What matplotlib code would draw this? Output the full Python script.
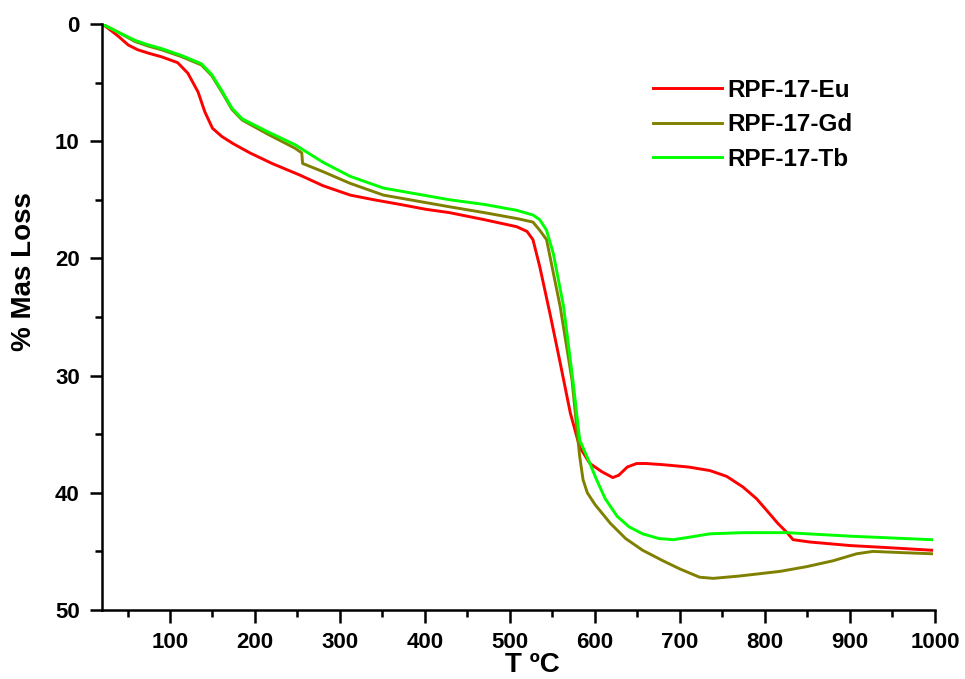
import matplotlib.pyplot as plt
from matplotlib.ticker import MultipleLocator
import numpy as np

plt.rcParams['font.family'] = ['Liberation Sans', 'DejaVu Sans']
plt.rcParams['font.weight'] = 'bold'

# values
eu_T = [20, 27, 40, 51, 62, 75, 90, 109, 121, 133, 141, 150, 161, 174, 194, 220, 253, 280, 312,
        340, 371, 400, 429, 470, 508, 520, 527, 535, 547, 559, 571, 582, 594, 608, 621, 628,
        638, 649, 660, 680, 710, 735, 755, 774, 790, 802, 815, 826, 833, 853, 900, 950, 996]
eu_L = [0, 0.35, 1.1, 1.8, 2.2, 2.5, 2.8, 3.3, 4.2, 5.8, 7.5, 8.9, 9.6, 10.2, 11.0, 11.9, 12.9, 13.8, 14.6,
        15.0, 15.4, 15.8, 16.1, 16.7, 17.3, 17.7, 18.4, 20.7, 24.7, 28.9, 33.2, 36.1, 37.5, 38.2, 38.7, 38.5,
        37.8, 37.5, 37.5, 37.6, 37.8, 38.1, 38.6, 39.5, 40.5, 41.5, 42.6, 43.4, 44.0, 44.2, 44.5, 44.7, 44.9]

gd_T = [20, 39, 59, 75, 90, 114, 137, 149, 161, 173, 185, 215, 247, 255, 256, 280, 312, 351, 390,
        429, 470, 508, 527, 535, 543, 559, 573, 580, 582, 586, 591, 600, 618, 636, 656, 680, 700,
        723, 739, 770, 794, 818, 849, 880, 908, 927, 960, 996]
gd_L = [0, 0.7, 1.5, 1.9, 2.2, 2.8, 3.5, 4.4, 5.8, 7.3, 8.2, 9.4, 10.6, 11.0, 11.9, 12.6, 13.6, 14.6, 15.1,
        15.6, 16.1, 16.6, 16.9, 17.6, 18.4, 24.1, 30.4, 35.5, 36.9, 38.9, 40.0, 41.0, 42.6, 43.9, 44.9, 45.8, 46.5,
        47.2, 47.3, 47.1, 46.9, 46.7, 46.3, 45.8, 45.2, 45.0, 45.1, 45.2]

tb_T = [20, 39, 59, 75, 90, 114, 137, 149, 161, 173, 185, 215, 247, 280, 312, 351, 390, 429,
        470, 508, 527, 535, 543, 551, 563, 574, 582, 594, 602, 612, 626, 640, 656, 675, 692,
        710, 735, 774, 826, 900, 996]
tb_L = [0, 0.7, 1.4, 1.8, 2.1, 2.7, 3.4, 4.3, 5.7, 7.2, 8.1, 9.2, 10.3, 11.8, 13.0, 14.0, 14.5, 15.0,
        15.4, 15.9, 16.3, 16.7, 17.6, 19.6, 24.1, 30.4, 35.5, 37.5, 38.9, 40.5, 42.0, 42.9, 43.5, 43.9, 44.0,
        43.8, 43.5, 43.4, 43.4, 43.7, 44.0]

fig = plt.figure(figsize=(9.65, 6.79), dpi=100)
ax = fig.add_axes([0.1057, 0.1016, 0.8632, 0.8631])

ax.plot(eu_T, eu_L, color='#ff0000', lw=2.1, label='RPF-17-Eu')
ax.plot(gd_T, gd_L, color='#808000', lw=2.1, label='RPF-17-Gd')
ax.plot(tb_T, tb_L, color='#00ff00', lw=2.1, label='RPF-17-Tb')

ax.set_xlim(20, 1000)
ax.set_ylim(50, 0)
ax.xaxis.set_minor_locator(MultipleLocator(50))
ax.yaxis.set_major_locator(MultipleLocator(10))
ax.yaxis.set_minor_locator(MultipleLocator(5))
ax.set_xticks(np.arange(100, 1001, 100))

for s in ['top', 'right']:
    ax.spines[s].set_visible(False)
for s in ['left', 'bottom']:
    ax.spines[s].set_linewidth(1.8)

ax.tick_params(which='major', direction='out', length=9, width=1.8, labelsize=16, pad=7)
ax.tick_params(which='minor', direction='out', length=5, width=1.8)
for lab in ax.get_xticklabels() + ax.get_yticklabels():
    lab.set_fontweight('bold')

ax.set_xlabel('T ºC', fontsize=20, fontweight='bold')
ax.xaxis.set_label_coords(0.517, -0.072)
ax.set_ylabel('% Mas Loss', fontsize=20, fontweight='bold')
ax.yaxis.set_label_coords(-0.078, 0.578)

ax.legend(loc='upper left', bbox_to_anchor=(0.654, 0.916), bbox_transform=fig.transFigure,
          frameon=False, prop={'size': 17.5, 'weight': 'bold'}, handlelength=2.85,
          handletextpad=0.2, labelspacing=0.47)

fig.savefig('out.png', dpi=100)
